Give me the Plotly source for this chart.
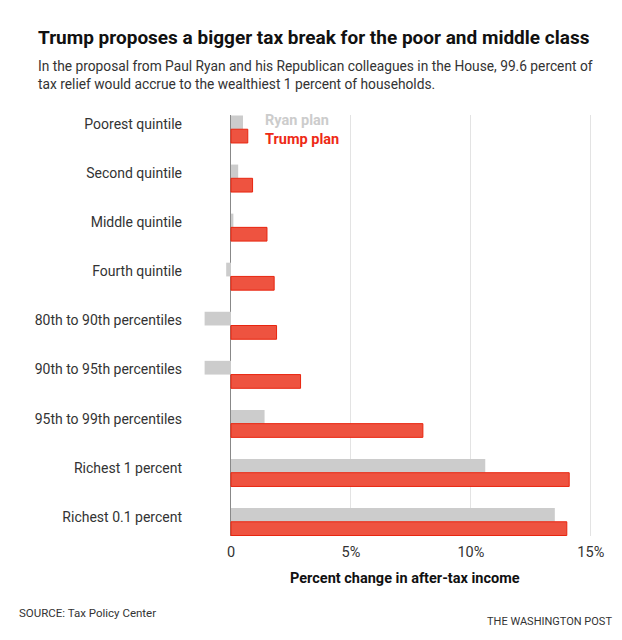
import plotly.graph_objects as go

groups = ["Poorest quintile", "Second quintile", "Middle quintile", "Fourth quintile",
          "80th to 90th percentiles", "90th to 95th percentiles", "95th to 99th percentiles",
          "Richest 1 percent", "Richest 0.1 percent"]
ryan_plan = [0.5, 0.3, 0.1, -0.2, -1.1, -1.1, 1.4, 10.6, 13.5]
trump_plan = [0.7, 0.9, 1.5, 1.8, 1.9, 2.9, 8.0, 14.1, 14.0]
tick_vals = [0, 5, 10, 15]
tick_text = ["0", "5%", "10%", "15%"]

font = "Roboto"

# plot area: x 201..592, y 115..536 (391 x 421 px)
PW, PH = 391, 421

fig = go.Figure()

fig.add_trace(go.Bar(
    y=groups, x=ryan_plan, orientation="h", name="Ryan plan",
    marker=dict(color="#cccccc", line=dict(width=0)),
))
fig.add_trace(go.Bar(
    y=groups, x=trump_plan, orientation="h", name="Trump plan",
    marker=dict(color="#ee5340", line=dict(color="#e8250f", width=1)),
))

fig.update_layout(
    width=622, height=640,
    margin=dict(l=201, r=30, t=115, b=104),
    paper_bgcolor="white", plot_bgcolor="white",
    barmode="group", bargap=0.44, bargroupgap=0,
    showlegend=False,
    font=dict(family=font, color="#222222"),
    xaxis=dict(
        range=[-1.25, 15.05], tickvals=tick_vals, ticktext=tick_text,
        showgrid=True, gridcolor="#e3e3e3", gridwidth=1,
        zeroline=True, zerolinecolor="#888888", zerolinewidth=1,
        showline=False, ticks="", ticklabelstandoff=5,
        tickfont=dict(size=14.5, color="#333333"),
    ),
    yaxis=dict(
        range=[8.29, -0.29], showgrid=False, zeroline=False, ticks="",
        tickfont=dict(size=14, color="#333333"),
        ticklabelshift=5, ticklabelstandoff=18,
    ),
)

fig.add_annotation(
    text="<b>Trump proposes a bigger tax break for the poor and middle class</b>",
    xref="paper", yref="paper", x=-165 / PW, y=1 + 78 / PH,
    xanchor="left", yanchor="middle", showarrow=False,
    font=dict(size=19, color="#111111", family=font),
)
fig.add_annotation(
    text="In the proposal from Paul Ryan and his Republican colleagues in the House, 99.6 percent of<br>"
         "tax relief would accrue to the wealthiest 1 percent of households.",
    xref="paper", yref="paper", x=-165 / PW, y=1 + 40 / PH,
    xanchor="left", yanchor="middle", align="left", showarrow=False,
    font=dict(size=13.75, color="#333333", family=font),
)
fig.add_annotation(
    text="<b>Ryan plan</b>", xref="x", yref="paper", x=1.35, y=1 - 5 / PH,
    xanchor="left", yanchor="middle", showarrow=False,
    font=dict(size=14.5, color="#cccccc", family=font),
)
fig.add_annotation(
    text="<b>Trump plan</b>", xref="x", yref="paper", x=1.35, y=1 - 24 / PH,
    xanchor="left", yanchor="middle", showarrow=False,
    font=dict(size=14.5, color="#ee2a16", family=font),
)
fig.add_annotation(
    text="<b>Percent change in after-tax income</b>", xref="paper", yref="paper",
    x=(405 - 201) / PW, y=-42 / PH, xanchor="center", yanchor="middle", showarrow=False,
    font=dict(size=14.5, color="#111111", family=font),
)
fig.add_annotation(
    text="SOURCE: Tax Policy Center", xref="paper", yref="paper",
    x=-184 / PW, y=-77 / PH, xanchor="left", yanchor="middle", showarrow=False,
    font=dict(size=11.5, color="#333333", family=font),
)
fig.add_annotation(
    text="THE WASHINGTON POST", xref="paper", yref="paper",
    x=1 + 22 / PW, y=-85 / PH, xanchor="right", yanchor="middle", showarrow=False,
    font=dict(size=11, color="#333333", family=font),
)

fig.write_html("out.html", config={"displayModeBar": False},
               post_script="document.body.style.margin = '0';")
